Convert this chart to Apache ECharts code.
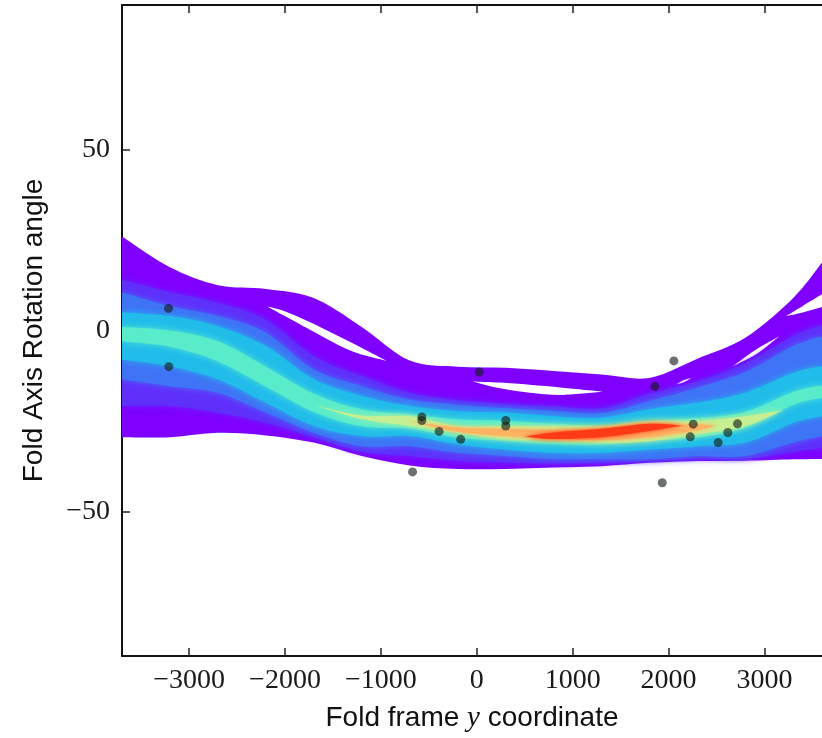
<!DOCTYPE html>
<html>
<head>
<meta charset="utf-8">
<title>Fold axis rotation angle</title>
<script src="https://cdn.jsdelivr.net/npm/echarts@6/dist/echarts.min.js"></script>
<style>
  html, body { margin: 0; padding: 0; background: #fff; }
  #main { width: 822px; height: 738px; }
</style>
</head>
<body>
<div id="main"></div>
<script>
// shared x positions (fold frame y) for the envelope and density layers
var xGrid = [-3700, -3200, -2700, -2200, -1700, -1200, -700, -200, 300, 800, 1300, 1800, 2300, 2800, 3300, 3600];

// outer envelope of all sampled curves (purple)
var outerTop    = [26.0, 17.5, 12.5, 11.5, 9.0, 1.0, -8.3, -10.0, -10.3, -11.2, -12.2, -13.1, -7.8, -2.0, 9.0, 18.8];
var outerBottom = [-29.5, -29.5, -28.3, -29.0, -31.0, -34.7, -37.3, -38.3, -38.3, -37.9, -37.5, -36.6, -36.1, -36.0, -35.6, -35.5];

// density contours, low -> high
var violetTop    = [14.0, 10.5, 7.7, 3.0, -7.1, -12.6, -17.2, -19.3, -20.3, -21.0, -21.5, -17.5, -14.0, -9.0, -1.5, 1.5];
var violetBottom = [-20.9, -20.9, -22.7, -25.5, -29.5, -33.5, -34.7, -36.0, -36.5, -36.8, -36.5, -36.0, -35.5, -35.5, -33.5, -32.5];
var blueTop      = [10.5, 6.7, 4.0, -0.6, -10.8, -15.4, -19.1, -20.5, -21.5, -22.2, -22.8, -19.5, -15.8, -11.5, -4.3, -1.6];
var blueBottom   = [-13.5, -15.4, -17.2, -22.7, -28.3, -32.0, -32.0, -33.8, -34.7, -35.6, -35.6, -35.6, -34.7, -34.7, -31.0, -29.2];
var cyanTop      = [5.0, 4.0, 1.2, -4.3, -13.5, -18.1, -20.9, -22.3, -22.7, -23.7, -24.1, -21.8, -20.0, -17.2, -11.7, -9.9];
var cyanBottom   = [-8.0, -9.9, -13.5, -20.0, -26.4, -29.2, -29.2, -31.5, -32.9, -33.8, -33.8, -32.9, -32.0, -31.0, -25.5, -23.7];
var greenTop     = [1.0, 0.0, -3.0, -10.0, -17.5, -21.8, -23.2, -24.6, -25.0, -25.8, -26.2, -25.0, -24.2, -22.5, -17.0, -15.2];
var greenBottom  = [-3.0, -4.5, -8.5, -15.5, -22.5, -26.5, -27.0, -29.6, -30.5, -31.4, -31.5, -30.5, -29.5, -26.8, -20.5, -18.6];

var yellowX      = [-1700, -1200, -700, -200, 300, 800, 1300, 1800, 2300, 2800, 3200];
var yellowTop    = [-20.5, -23.5, -23.7, -26.4, -26.4, -26.4, -26.4, -25.0, -25.0, -23.7, -22.0];
var yellowBottom = [-20.5, -24.5, -26.4, -28.3, -30.1, -30.5, -31.0, -30.6, -28.7, -26.4, -22.0];

var orangeX      = [-700, -200, 300, 800, 1300, 1800, 2300, 2500];
var orangeTop    = [-25.0, -26.8, -27.2, -27.5, -27.2, -26.0, -26.0, -26.3];
var orangeBottom = [-25.0, -28.0, -29.2, -30.0, -30.3, -29.5, -27.6, -26.3];

var redX      = [500, 800, 1300, 1800, 2150];
var redTop    = [-29.3, -28.2, -27.2, -25.8, -26.3];
var redBottom = [-29.3, -30.0, -29.5, -27.8, -26.3];

// gaps inside the purple envelope
var hole1X = [-2190, -1983, -1635, -1288, -941];
var hole1Top = [6.7, 5.1, 1.0, -3.6, -8.4];
var hole1Bottom = [6.7, 3.7, -1.3, -5.9, -8.4];
var hole2X = [-42, 240, 552, 896, 1333];
var hole2Top = [-14.1, -14.4, -15.0, -15.8, -16.9];
var hole2Bottom = [-14.1, -16.0, -17.2, -17.8, -16.9];
var hole3X = [2080, 2160, 2236];
var hole3Top = [-14.9, -13.7, -13.1];
var hole3Bottom = [-14.9, -14.3, -13.1];
var hole4X = [2670, 2917, 3156];
var hole4Top = [-9.9, -5.2, -1.6];
var hole4Bottom = [-9.9, -6.5, -1.6];
var wedgeX = [3226, 3400, 3600];
var wedgeTop = [4.0, 6.8, 10.0];
var wedgeBottom = [4.0, 5.0, 6.5];

// observed data
var obsX = [-3215, -3212, -670, -573, -573, -393, -168, 25, 302, 302, 1857, 2055, 1934, 2226, 2257, 2517, 2618, 2719];
var obsY = [6.1, -10.0, -39.1, -23.9, -24.9, -27.9, -30.1, -11.5, -24.9, -26.4, -15.5, -8.4, -42.1, -29.4, -25.9, -31.0, -28.2, -25.8];

var xTicks = [-3000, -2000, -1000, 0, 1000, 2000, 3000];
var yTicks = [-50, 0, 50];

// draw order
var bands = [
  {x: xGrid, top: outerTop, bottom: outerBottom, color: '#7f00ff', blur: 0},
  {x: hole1X, top: hole1Top, bottom: hole1Bottom, color: '#ffffff', blur: 0},
  {x: hole2X, top: hole2Top, bottom: hole2Bottom, color: '#ffffff', blur: 0},
  {x: hole3X, top: hole3Top, bottom: hole3Bottom, color: '#ffffff', blur: 0},
  {x: hole4X, top: hole4Top, bottom: hole4Bottom, color: '#ffffff', blur: 0},
  {x: wedgeX, top: wedgeTop, bottom: wedgeBottom, color: '#ffffff', blur: 0},
  {x: xGrid, top: violetTop, bottom: violetBottom, color: '#6030fb', blur: 6},
  {x: xGrid, top: blueTop, bottom: blueBottom, color: '#3f74f6', blur: 6},
  {x: xGrid, top: cyanTop, bottom: cyanBottom, color: '#22bcea', blur: 6},
  {x: xGrid, top: greenTop, bottom: greenBottom, color: '#58eccb', blur: 6},
  {x: yellowX, top: yellowTop, bottom: yellowBottom, color: '#c6ee92', blur: 6},
  {x: orangeX, top: orangeTop, bottom: orangeBottom, color: '#ffb262', blur: 5},
  {x: redX, top: redTop, bottom: redBottom, color: '#ff3a16', blur: 5}
];

// catmull-rom through pixel points -> svg cubic segments
function spline(pts) {
  var d = '';
  for (var i = 0; i < pts.length - 1; i++) {
    var p0 = pts[i - 1] || pts[i], p1 = pts[i], p2 = pts[i + 1], p3 = pts[i + 2] || p2;
    var c1 = [p1[0] + (p2[0] - p0[0]) / 6, p1[1] + (p2[1] - p0[1]) / 6];
    var c2 = [p2[0] - (p3[0] - p1[0]) / 6, p2[1] - (p3[1] - p1[1]) / 6];
    d += ' C' + c1[0] + ',' + c1[1] + ' ' + c2[0] + ',' + c2[1] + ' ' + p2[0] + ',' + p2[1];
  }
  return d;
}

var myChart = echarts.init(document.getElementById('main'));

var labelFont = {fontFamily: 'Liberation Serif', fontSize: 28, color: '#1a1a1a'};
var minus = function (v) { return String(v).replace('-', '\u2212'); };
var axisLine = {onZero: false, lineStyle: {color: '#111', width: 2}};

myChart.setOption({
  animation: false,
  grid: {left: 122, right: 0, top: 5, bottom: 81},
  xAxis: [{
    type: 'value', min: -3700, max: 3600, position: 'bottom',
    axisLine: axisLine,
    axisTick: {inside: true, length: 8, customValues: xTicks, lineStyle: {color: '#222', width: 1.5}},
    axisLabel: Object.assign({customValues: xTicks, formatter: minus, margin: 11}, labelFont),
    splitLine: {show: false},
    name: '{a|Fold frame }{b|y}{a| coordinate}',
    nameLocation: 'middle', nameGap: 48,
    nameTextStyle: {
      rich: {
        a: {fontFamily: 'Liberation Sans', fontSize: 28, color: '#111'},
        b: {fontFamily: 'Liberation Serif', fontStyle: 'italic', fontSize: 29, color: '#111'}
      }
    }
  }, {
    type: 'value', min: -3700, max: 3600, position: 'top',
    axisLine: axisLine,
    axisTick: {inside: true, length: 8, customValues: xTicks, lineStyle: {color: '#222', width: 1.5}},
    axisLabel: {show: false},
    splitLine: {show: false}
  }],
  yAxis: {
    type: 'value', min: -90, max: 90,
    axisLine: {show: true, onZero: false, lineStyle: {color: '#111', width: 2}},
    axisTick: {show: true, inside: true, length: 8, customValues: yTicks, lineStyle: {color: '#222', width: 1.5}},
    axisLabel: Object.assign({customValues: yTicks, formatter: minus, margin: 12}, labelFont),
    splitLine: {show: false},
    name: 'Fold Axis Rotation angle',
    nameLocation: 'middle', nameGap: 74,
    nameTextStyle: {fontFamily: 'Liberation Sans', fontSize: 28, color: '#111'}
  },
  series: [{
    type: 'custom',
    silent: true,
    data: bands.map(function (b) { return [b.x[0], b.top[0]]; }),
    renderItem: function (params, api) {
      var b = bands[params.dataIndex];
      var cs = params.coordSys;
      var top = b.x.map(function (x, i) { return api.coord([x, b.top[i]]); });
      var bot = b.x.map(function (x, i) { return api.coord([x, b.bottom[i]]); }).reverse();
      var d = 'M' + top[0][0] + ',' + top[0][1] + spline(top) +
              ' L' + bot[0][0] + ',' + bot[0][1] + spline(bot) + ' Z';
      return {
        type: 'path',
        shape: {pathData: d},
        clipPath: {type: 'rect', shape: {x: cs.x, y: cs.y, width: cs.width, height: cs.height}},
        style: {fill: b.color, shadowBlur: b.blur, shadowColor: b.color}
      };
    }
  }, {
    type: 'scatter',
    symbolSize: 9,
    itemStyle: {color: 'rgba(20, 28, 24, 0.78)'},
    data: obsX.map(function (x, i) { return [x, obsY[i]]; })
  }]
});
</script>
</body>
</html>
